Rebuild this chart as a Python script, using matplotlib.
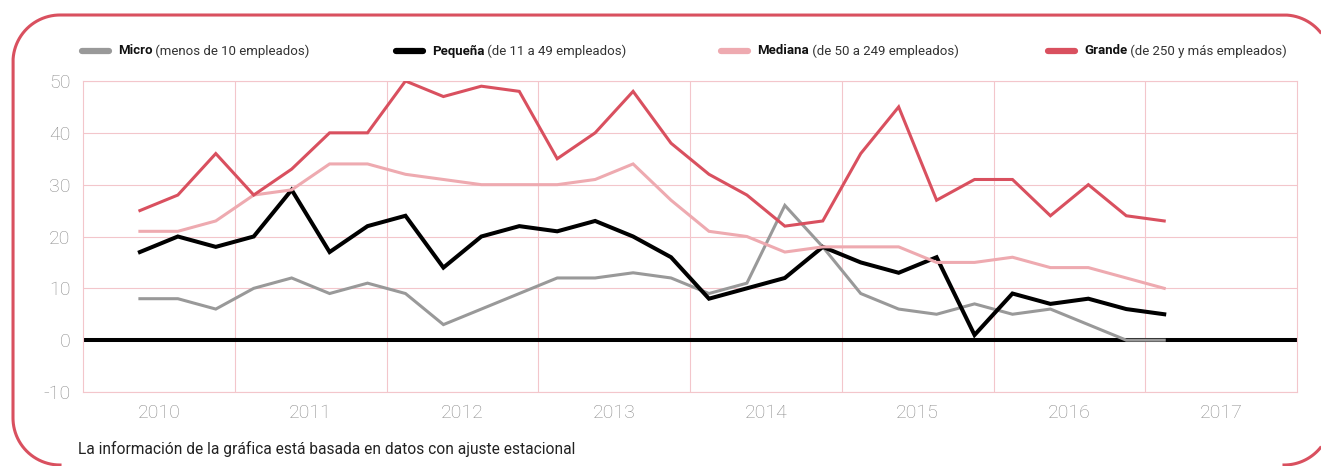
import numpy as np
import matplotlib
matplotlib.use('Agg')
import matplotlib.pyplot as plt

# trimestres 2010T1 .. 2016T4
years = [2010, 2011, 2012, 2013, 2014, 2015, 2016, 2017]
micro = [8, 8, 6, 10, 12, 9, 11, 9, 3, 6, 9, 12, 12, 13, 12, 9,
         11, 26, 18, 9, 6, 5, 7, 5, 6, 3, 0, 0]
pequena = [17, 20, 18, 20, 29, 17, 22, 24, 14, 20, 22, 21, 23, 20, 16, 8,
           10, 12, 18, 15, 13, 16, 1, 9, 7, 8, 6, 5]
mediana = [21, 21, 23, 28, 29, 34, 34, 32, 31, 30, 30, 30, 31, 34, 27, 21,
           20, 17, 18, 18, 18, 15, 15, 16, 14, 14, 12, 10]
grande = [25, 28, 36, 28, 33, 40, 40, 50, 47, 49, 48, 35, 40, 48, 38, 32,
          28, 22, 23, 36, 45, 27, 31, 31, 24, 30, 24, 23]

series = [
    ('Micro', ' (menos de 10 empleados)', micro, '#999999'),
    ('Pequeña', ' (de 11 a 49 empleados)', pequena, '#000000'),
    ('Mediana', ' (de 50 a 249 empleados)', mediana, '#eeaab0'),
    ('Grande', ' (de 250 y más empleados)', grande, '#d9505f'),
]

RED = '#d9505f'
GRID = '#f3c6cb'
TICK = '#8a8a8a'

plt.rcParams['font.family'] = ['Roboto', 'DejaVu Sans']

W, H = 1321, 466
fig = plt.figure(figsize=(W / 100, H / 100), dpi=100)
ax = fig.add_axes([83 / W, 1 - 392 / H, (1297 - 83) / W, (392 - 81) / H])

x = list(range(len(grande)))
for name, desc, vals, col in series:
    lw = 2.9 if col == '#000000' else 2.2
    ax.plot(x, vals, color=col, lw=lw, solid_joinstyle='miter', zorder=3)

ax.axhline(0, color='black', lw=2.9, zorder=2)

ax.set_xlim(-1.5, 30.5)
ax.set_ylim(-10, 50)
ax.set_yticks(range(-10, 51, 10))
ax.set_yticklabels([str(v) for v in range(-10, 51, 10)])
ax.set_xticks([0.5 + 4 * i for i in range(len(years))])
ax.set_xticklabels([str(y) for y in years])
ax.set_xticks([2.5 + 4 * i for i in range(7)], minor=True)
ax.tick_params(length=0, which='both', colors=TICK, labelsize=14)
ax.tick_params(axis='y', pad=9)
ax.tick_params(axis='x', pad=9)
for lab in ax.get_xticklabels() + ax.get_yticklabels():
    lab.set_fontweight('light')
ax.grid(True, axis='y', color=GRID, lw=0.8)
ax.grid(True, axis='x', which='minor', color=GRID, lw=0.8)
for s in ax.spines.values():
    s.set_color(GRID)
    s.set_linewidth(0.8)

# leyenda manual
leg_x = [80, 394, 719, 1046]
leg_y = 1 - 51 / H
for (name, desc, vals, col), lx in zip(series, leg_x):
    fig.add_artist(plt.Line2D([(lx + 2) / W, (lx + 29) / W], [leg_y, leg_y], color=col,
                              lw=4.5, solid_capstyle='round', transform=fig.transFigure))
    t = fig.text((lx + 38) / W, leg_y, name, fontsize=9.5, fontweight='bold',
                 va='center', ha='left', color='#111111')
    ax.annotate(desc, xy=(1, 0.5), xycoords=t, va='center', ha='left',
                fontsize=9.5, color='#333333', annotation_clip=False)

fig.text(78 / W, 1 - 449 / H, 'La información de la gráfica está basada en datos con ajuste estacional',
         fontsize=11.2, color='#222222', va='center', ha='left')


# marco redondeado: polilíneas en píxeles (y hacia arriba), solo dentro del lienzo
def arc(cx, cy, r, a0, a1, n=120):
    t = np.radians(np.linspace(a0, a1, n))
    return cx + r * np.cos(t), cy + r * np.sin(t)


def frame_line(px, py):
    px, py = np.asarray(px), np.asarray(py)
    keep = (px <= W - 0.5) & (py >= 0.5)
    fig.add_artist(plt.Line2D(px[keep] / W, py[keep] / H, color=RED, lw=2.2,
                              transform=fig.transFigure, solid_joinstyle='round'))


r = 47
left, right, top, bottom = 13, 1331, H - 15, 1
bx, by = arc(left + r, bottom + r, r, 270, 180)
tlx, tly = arc(left + r, top - r, r, 180, 90)
trx, try_ = arc(right - r, top - r, r, 90, 0)
frame_line(np.concatenate([bx, tlx, trx]), np.concatenate([by, tly, try_]))
brx, bry = arc(right - r, bottom + r, r, 270, 360)
frame_line(brx, bry)

fig.savefig('out.png', dpi=100)
